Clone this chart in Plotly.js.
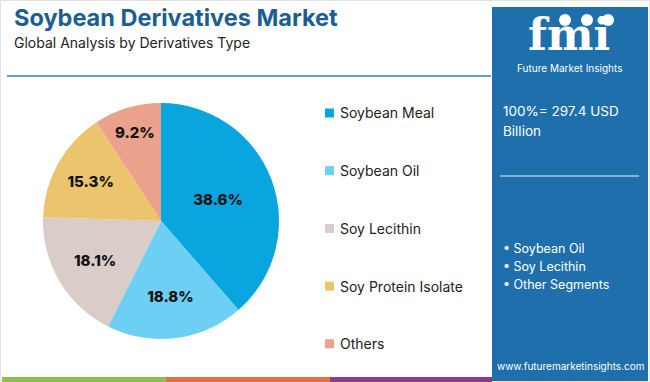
<!DOCTYPE html>
<html>
<head>
<meta charset="utf-8">
<script src="https://cdn.plot.ly/plotly-3.0.1.min.js"></script>
<style>html,body{margin:0;padding:0;background:#fff;}#chart{width:650px;height:382px;}</style>
</head>
<body>
<div id="chart"></div>
<script>
// ---- data ----
const categories = ["Soybean Meal", "Soybean Oil", "Soy Lecithin", "Soy Protein Isolate", "Others"];
const shares = [38.6, 18.8, 18.1, 15.3, 9.2];
const sliceColors = ["#09a5df", "#6dcff4", "#d9ccc9", "#ebc46d", "#eaa28d"];
const titleText = "Soybean Derivatives Market";
const subtitleText = "Global Analysis by Derivatives Type";
const totalText = ["100%= 297.4 USD", "Billion"];
const bulletItems = ["Soybean Oil", "Soy Lecithin", "Other Segments"];
const siteText = "www.futuremarketinsights.com";

const W = 650, H = 382;
const px = x => x / W;
const py = y => 1 - y / H;
const FONT = "Inter, 'Open Sans', sans-serif";

const pieTrace = {
  type: "pie",
  labels: categories,
  values: shares,
  marker: {colors: sliceColors, line: {width: 0}},
  sort: false,
  direction: "clockwise",
  rotation: 0,
  texttemplate: "%{value:.1f}%",
  textinfo: "text",
  textposition: "inside",
  insidetextorientation: "horizontal",
  textfont: {family: FONT, size: 15, color: "#111111", weight: 800},
  hoverinfo: "label+percent",
  domain: {x: [px(161 - 118), px(161 + 118)], y: [py(339), py(103)]},
  showlegend: false
};

const shapes = [
  {type: "rect", xref: "paper", yref: "paper", x0: px(0.5), x1: px(649.5), y0: py(381.5), y1: py(0.5), line: {color: "#e2e2e2", width: 1}},
  {type: "line", xref: "paper", yref: "paper", x0: px(7), x1: px(491), y0: py(76), y1: py(76), line: {color: "#5f9fca", width: 2}},
  {type: "rect", xref: "paper", yref: "paper", x0: px(492), x1: px(648), y0: py(382), y1: py(7), fillcolor: "#1f6fad", line: {width: 0}, layer: "below"},
  {type: "line", xref: "paper", yref: "paper", x0: px(500), x1: px(639), y0: py(176), y1: py(176), line: {color: "#a9c9e6", width: 1.5}},
  {type: "rect", xref: "paper", yref: "paper", x0: px(2), x1: px(166), y0: py(382), y1: py(377), fillcolor: "#8cc04b", line: {width: 0}},
  {type: "rect", xref: "paper", yref: "paper", x0: px(166), x1: px(330), y0: py(382), y1: py(377), fillcolor: "#e8703c", line: {width: 0}},
  {type: "rect", xref: "paper", yref: "paper", x0: px(330), x1: px(492), y0: py(382), y1: py(377), fillcolor: "#8a3b8f", line: {width: 0}},
  {type: "circle", xref: "paper", yref: "paper", x0: px(559), x1: px(571), y0: py(26), y1: py(14), fillcolor: "#ffffff", line: {width: 0}},
  {type: "circle", xref: "paper", yref: "paper", x0: px(581), x1: px(593), y0: py(26), y1: py(14), fillcolor: "#ffffff", line: {width: 0}},
  {type: "circle", xref: "paper", yref: "paper", x0: px(602), x1: px(614), y0: py(26), y1: py(14), fillcolor: "#ffffff", line: {width: 0}}
];

const annotations = [
  {text: "<b>" + titleText + "</b>", x: px(12), y: py(18), xanchor: "left", yanchor: "middle", font: {family: FONT, size: 23.5, color: "#1b5e93"}},
  {text: subtitleText, x: px(12), y: py(42), xanchor: "left", yanchor: "middle", font: {family: FONT, size: 14, color: "#222222"}},
  {text: "<b>fmi</b>", x: px(569), y: py(34), xanchor: "center", yanchor: "middle", font: {family: "'DejaVu Serif', serif", size: 44, color: "#ffffff"}},
  {text: "Future Market Insights", x: px(569), y: py(68), xanchor: "center", yanchor: "middle", font: {family: FONT, size: 10, color: "#ffffff"}},
  {text: totalText[0], x: px(501), y: py(111), xanchor: "left", yanchor: "middle", font: {family: FONT, size: 13.5, color: "#ffffff"}},
  {text: totalText[1], x: px(501), y: py(131), xanchor: "left", yanchor: "middle", font: {family: FONT, size: 13.5, color: "#ffffff"}},
  {text: siteText, x: px(570), y: py(366), xanchor: "center", yanchor: "middle", font: {family: FONT, size: 10, color: "#ffffff"}}
];

bulletItems.forEach((t, i) => {
  annotations.push({text: "• " + t, x: px(501), y: py(248 + i * 18), xanchor: "left", yanchor: "middle", font: {family: FONT, size: 12.5, color: "#ffffff"}});
});

categories.forEach((c, i) => {
  const yc = 113 + i * 57.7;
  shapes.push({type: "rect", xref: "paper", yref: "paper", x0: px(325), x1: px(334), y0: py(yc + 4.5), y1: py(yc - 4.5), fillcolor: sliceColors[i], line: {width: 0}});
  annotations.push({text: c, x: px(338), y: py(yc), xanchor: "left", yanchor: "middle", font: {family: FONT, size: 14, color: "#222222"}});
});

annotations.forEach(a => { a.xref = "paper"; a.yref = "paper"; a.showarrow = false; });

const layout = {
  width: W, height: H,
  margin: {l: 0, r: 0, t: 0, b: 0, pad: 0},
  paper_bgcolor: "#ffffff",
  plot_bgcolor: "#ffffff",
  showlegend: false,
  shapes: shapes,
  annotations: annotations
};

Plotly.newPlot("chart", [pieTrace], layout, {displayModeBar: false, staticPlot: true});
</script>
</body>
</html>
